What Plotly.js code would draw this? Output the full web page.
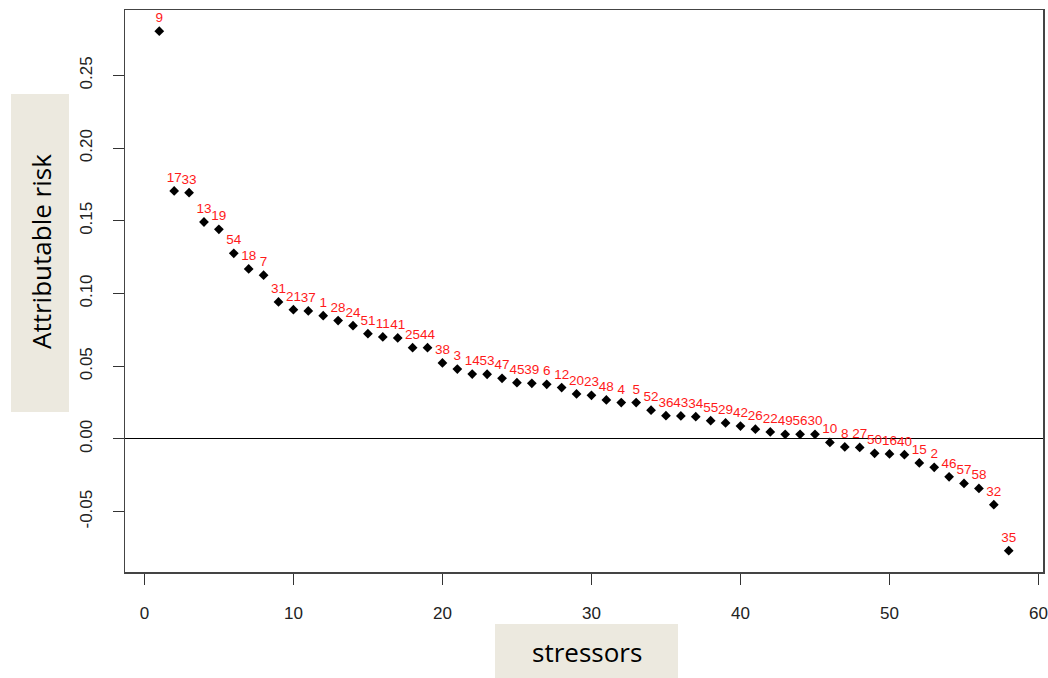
<!DOCTYPE html>
<html>
<head>
<meta charset="utf-8">
<script src="https://cdn.plot.ly/plotly-3.0.1.min.js"></script>
<style>
  html, body { margin: 0; padding: 0; background: #ffffff; }
  #chart { width: 1048px; height: 678px; }
</style>
</head>
<body>
<div id="chart"></div>
<script>
// Rank positions of the stressors (x axis)
const ranks = [1,2,3,4,5,6,7,8,9,10,11,12,13,14,15,16,17,18,19,20,
               21,22,23,24,25,26,27,28,29,30,31,32,33,34,35,36,37,38,39,40,
               41,42,43,44,45,46,47,48,49,50,51,52,53,54,55,56,57,58];

// Stressor id printed above each point
const stressorIds = ['9','17','33','13','19','54','18','7','31','21','37','1','28','24','51','11','41','25','44',
                     '38','3','14','53','47','45','39','6','12','20','23','48','4','5','52',
                     '36','43','34','55','29','42','26','22','49','56','30',
                     '10','8','27','50','16','40','15','2','46','57','58','32','35'];

// Attributable risk values
const attributableRisk = [0.2804,0.1706,0.1694,0.1492,0.1442,0.1277,0.1169,0.1126,0.0942,0.0889,
                          0.0880,0.0848,0.0814,0.0779,0.0724,0.0702,0.0695,0.0628,0.0628,0.0523,
                          0.0481,0.0446,0.0445,0.0417,0.0387,0.0383,0.0376,0.0353,0.0310,0.0300,
                          0.0268,0.0250,0.0250,0.0198,0.0160,0.0158,0.0153,0.0126,0.0110,0.0089,
                          0.0067,0.0048,0.0032,0.0032,0.0032,-0.0024,-0.0055,-0.0058,-0.0099,-0.0103,
                          -0.0108,-0.0165,-0.0195,-0.0260,-0.0306,-0.0340,-0.0452,-0.0768];

// Tick labels
const xTickVals = [0,10,20,30,40,50,60];
const xTickText = ['0','10','20','30','40','50','60'];
const yTickVals = [-0.05,0,0.05,0.10,0.15,0.20,0.25];
const yTickText = ['-0.05','0.00','0.05','0.10','0.15','0.20','0.25'];

const xTitle = 'stressors';
const yTitle = 'Attributable risk';

// Plot-area geometry (pixels)
const W = 1048, H = 678;
const L = 125, R = 1043, T = 10, B = 572;
const pw = R - L, ph = B - T;
const px = v => (v - L) / pw;
const py = v => (B - v) / ph;

const beige = '#ECE9DF';
const tickFont = { family: 'Liberation Sans, Arial, sans-serif', size: 17, color: '#222222' };

const trace = {
  type: 'scatter',
  mode: 'markers+text',
  x: ranks,
  y: attributableRisk,
  text: stressorIds,
  textposition: 'top center',
  textfont: { family: 'Liberation Sans, Arial, sans-serif', size: 13.5, color: '#ff1a1a' },
  marker: { symbol: 'diamond', size: 7.5, color: '#000000', line: { width: 0 } },
  hoverinfo: 'x+y+text',
  cliponaxis: false,
  showlegend: false
};

const layout = {
  width: W, height: H,
  margin: { l: L, r: W - R, t: T, b: H - B, pad: 0 },
  paper_bgcolor: '#ffffff',
  plot_bgcolor: '#ffffff',
  showlegend: false,
  xaxis: {
    range: [-1.3, 60.3],
    tickmode: 'array', tickvals: xTickVals, ticktext: xTickText,
    ticks: 'outside', ticklen: 11, tickwidth: 1, tickcolor: '#333333',
    tickfont: tickFont, ticklabelstandoff: 14,
    showline: true, linecolor: '#444444', linewidth: 1.5, mirror: true,
    showgrid: false, zeroline: false
  },
  yaxis: {
    range: [-0.0915, 0.2950],
    tickmode: 'array', tickvals: yTickVals, ticktext: yTickText,
    ticks: 'outside', ticklen: 11, tickwidth: 1, tickcolor: '#333333',
    tickangle: -90,
    tickfont: tickFont, ticklabelstandoff: 14,
    showline: true, linecolor: '#444444', linewidth: 1.5, mirror: true,
    showgrid: false,
    zeroline: true, zerolinecolor: '#000000', zerolinewidth: 1
  },
  shapes: [
    { type: 'rect', xref: 'paper', yref: 'paper', layer: 'below',
      x0: px(11), x1: px(69), y0: py(412), y1: py(94),
      fillcolor: beige, line: { width: 0 } },
    { type: 'rect', xref: 'paper', yref: 'paper', layer: 'below',
      x0: px(495), x1: px(678), y0: py(678), y1: py(624),
      fillcolor: beige, line: { width: 0 } }
  ],
  annotations: [
    { text: yTitle, xref: 'paper', yref: 'paper', x: px(41), y: py(252),
      xanchor: 'center', yanchor: 'middle', textangle: -90, showarrow: false,
      font: { family: 'Open Sans, Noto Sans, sans-serif', size: 26, color: '#000000' } },
    { text: xTitle, xref: 'paper', yref: 'paper', x: px(587), y: py(652),
      xanchor: 'center', yanchor: 'middle', showarrow: false,
      font: { family: 'Open Sans, Noto Sans, sans-serif', size: 26, color: '#000000' } }
  ]
};

Plotly.newPlot('chart', [trace], layout, { displayModeBar: false, staticPlot: true });
</script>
</body>
</html>
